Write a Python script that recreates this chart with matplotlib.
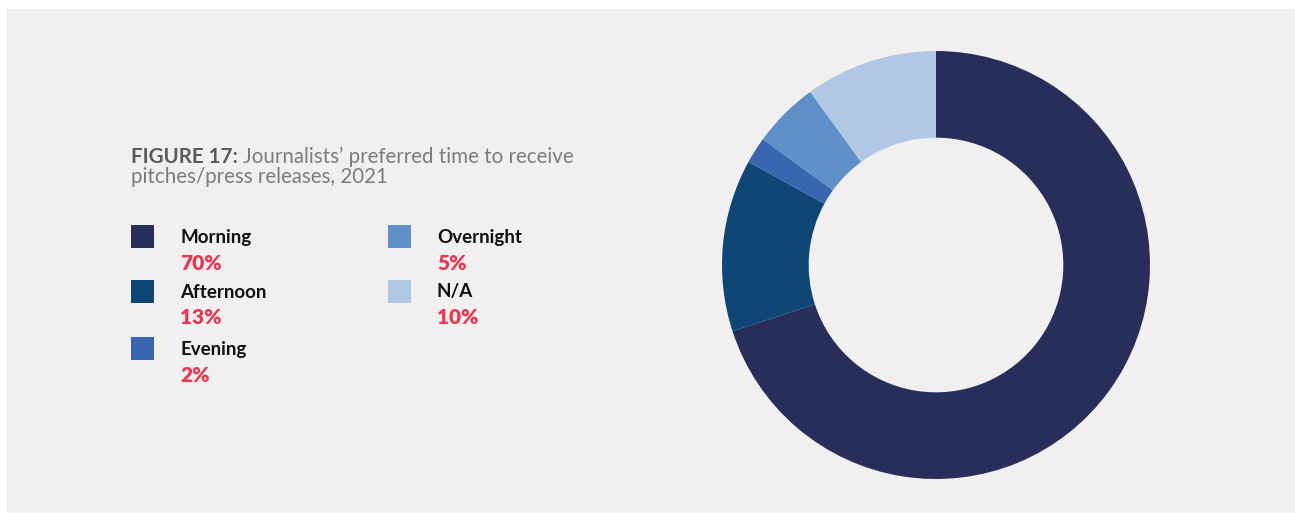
import matplotlib.pyplot as plt
from matplotlib.patches import Rectangle

# data
categories = ['Morning', 'Afternoon', 'Evening', 'Overnight', 'N/A']
shares = [70, 13, 2, 5, 10]
colors = ['#282e5a', '#0e4675', '#3a66b0', '#6090c8', '#b0c8e4']

W, H = 1295, 515
bg = '#f1eff0'

fig = plt.figure(figsize=(W / 100, H / 100), dpi=100)
fig.patch.set_facecolor('white')
fig.patches.append(Rectangle((6 / W, 1 - 513 / H), (W - 6) / W, (513 - 9) / H,
                             transform=fig.transFigure, facecolor=bg,
                             edgecolor='none', zorder=-5))

def fx(px):
    return px / W

def fy(py):
    return 1 - py / H

# title
t1 = fig.text(fx(131), fy(163), 'FIGURE 17:', fontsize=14.8, fontweight='bold',
              color='#5a5a5a', family='Lato', va='baseline', ha='left')
bb = t1.get_window_extent(fig.canvas.get_renderer())
fig.text(bb.x1 / W + 5 / W, fy(163), 'Journalists\u2019 preferred time to receive',
         fontsize=14.8, color='#7c7c7c', family='Lato', va='baseline', ha='left')
fig.text(fx(131), fy(183), 'pitches/press releases, 2021',
         fontsize=14.8, color='#7c7c7c', family='Lato',
         va='baseline', ha='left')

# legend, two columns
col_x = [131, 388]
row_y = [237, 292, 349]
for i, (cat, val, col) in enumerate(zip(categories, shares, colors)):
    c, r = (0, i) if i < 3 else (1, i - 3)
    x0 = col_x[c]
    y0 = row_y[r]
    fig.patches.append(Rectangle((fx(x0), fy(y0 + 10.5)), 23 / W, 23 / H,
                                 transform=fig.transFigure, facecolor=col,
                                 edgecolor='none', zorder=2))
    fig.text(fx(x0 + 49), fy(y0), cat, fontsize=13.5, fontweight='bold',
             color='#111111', family='Lato', va='center', ha='left')
    fig.text(fx(x0 + 49), fy(y0 + 26), f'{val}%', fontsize=15, fontweight='heavy',
             color='#e8384f', family='Lato', va='center', ha='left')

# donut
cx, cy, rad = 936, 265, 214
ax = fig.add_axes([fx(cx - rad), fy(cy + rad), 2 * rad / W, 2 * rad / H])
ax.pie(shares, colors=colors, startangle=90, counterclock=False, radius=1,
       wedgeprops=dict(width=0.405, linewidth=0))
ax.set_xlim(-1, 1)
ax.set_ylim(-1, 1)
ax.set_aspect('auto')
ax.axis('off')

fig.savefig('out.png', dpi=100, facecolor=fig.get_facecolor())
